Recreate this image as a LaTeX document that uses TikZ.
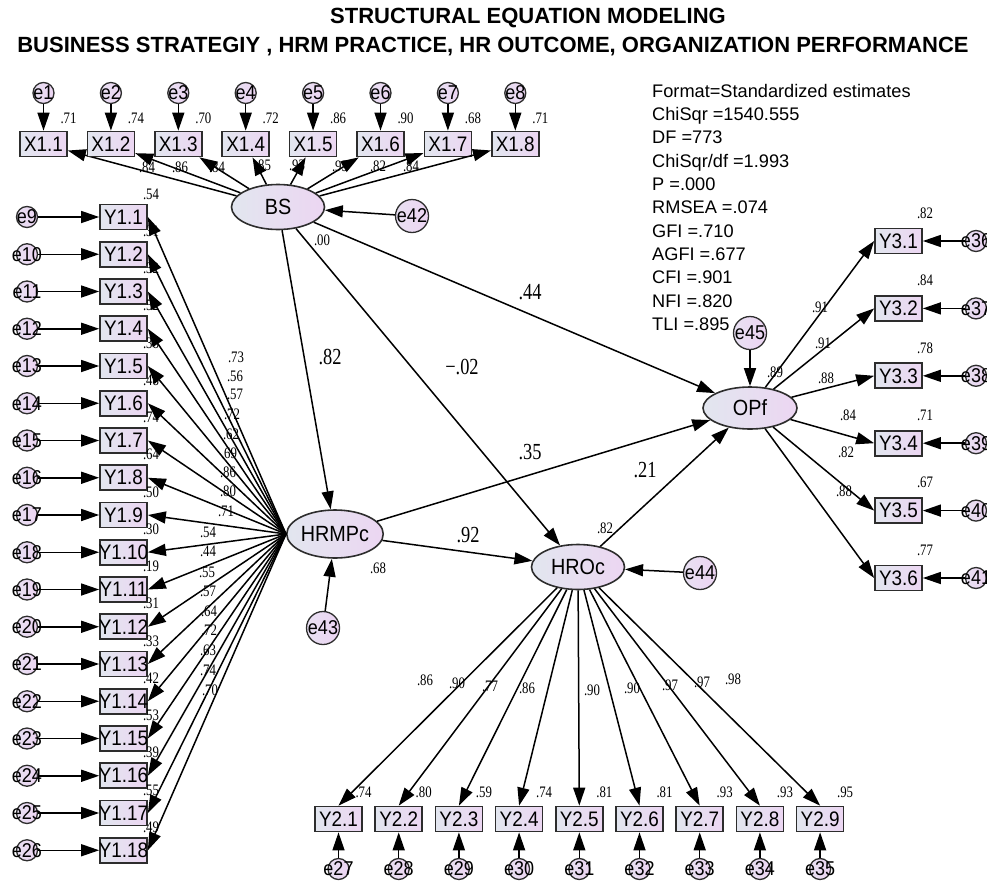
\documentclass[tikz,border=0pt]{standalone}
\usepackage{fontspec}
\setmainfont{Liberation Sans}
\newfontfamily\boxfont{Liberation Sans}[FakeStretch=0.9]
\newfontfamily\numfont{Liberation Serif}[FakeStretch=0.8]
\usetikzlibrary{arrows.meta,shapes.geometric}
\definecolor{fillL}{RGB}{226,230,239}
\definecolor{fillR}{RGB}{236,214,242}
\definecolor{errL}{RGB}{232,224,242}
\definecolor{errR}{RGB}{236,212,242}
\definecolor{boxline}{RGB}{45,45,45}

\begin{document}
\begin{tikzpicture}[x=1pt,y=-1pt,
  obs/.style={rectangle,draw=boxline,line width=1.7pt,minimum width=47pt,minimum height=25pt,inner sep=0pt,
    left color=fillL,right color=fillR,font=\boxfont\fontsize{21}{21}\selectfont,
    execute at begin node={\hbox to 0pt\bgroup\hss},execute at end node={\hss\egroup}},
  lat/.style={ellipse,draw=boxline,line width=1.6pt,minimum width=93pt,minimum height=45pt,inner sep=0pt,
    left color=fillL,right color=fillR,font=\boxfont\fontsize{22}{22}\selectfont},
  err/.style={circle,draw=boxline,line width=1.3pt,minimum size=21pt,inner sep=0pt,
    left color=errL,right color=errR,font=\boxfont\fontsize{20}{20}\selectfont,
    execute at begin node={\hbox to 0pt\bgroup\hss},execute at end node={\hss\egroup}},
  errbig/.style={err,minimum size=33pt},
  arr/.style={-{Triangle[length=18pt,width=12pt]},line width=1.5pt},
  num/.style={inner sep=0pt,font=\numfont\fontsize{16}{16}\selectfont},
  coef/.style={inner sep=0pt,font=\numfont\fontsize{23}{23}\selectfont}]
\useasboundingbox (0,0) rectangle (987,881);
\clip (0,0) rectangle (987,881);

% title and fit indices
\node[font=\bfseries\fontsize{22}{22}\selectfont] (title1) at (528,18) {STRUCTURAL EQUATION MODELING};
\node[font=\bfseries\fontsize{22}{22}\selectfont] (title2) at (493,47) {BUSINESS STRATEGIY , HRM PRACTICE, HR OUTCOME, ORGANIZATION PERFORMANCE};
\node[anchor=north west,inner sep=0pt,align=left,font=\fontsize{18.2}{23.3}\selectfont] (fit) at (652,84)
  {Format=Standardized estimates\\ChiSqr =1540.555\\DF =773\\ChiSqr/df =1.993\\P =.000\\RMSEA =.074\\GFI =.710\\AGFI =.677\\CFI =.901\\NFI =.820\\TLI =.895};

% latent variables
\node[lat] (bs) at (278,207) {BS};
\node[lat,minimum width=95pt,minimum height=48pt] (hrmpc) at (335,534) {HRMPc};
\node[lat] (hroc) at (578,567) {HROc};
\node[lat,minimum width=94pt,minimum height=42pt] (opf) at (750,408) {OPf};
\node[errbig] (e42) at (412,216) {e42};
\node[errbig] (e43) at (323,628) {e43};
\node[errbig] (e44) at (700,573) {e44};
\node[errbig] (e45) at (750,333) {e45};

% X1 indicators
\foreach \i/\r in {1/.71,2/.74,3/.70,4/.72,5/.86,6/.90,7/.68,8/.71}{
  \pgfmathsetmacro{\xx}{43.5+67.4*(\i-1)}
  \node[num] (rx\i) at (\xx+25,118) {\r};
  \node[obs] (x\i) at (\xx,144) {X1.\i};
  \node[err] (e\i) at (\xx,93) {e\i};
  \draw[arr] (e\i) -- (x\i);
  \draw[arr] (bs) -- (x\i);
}
\foreach \v/\px/\py [count=\i] in {.84/147/167,.86/180/167,.84/217/167,.85/263/165,.93/297/165,.95/340/166,.82/378/166,.84/411/166}
  \node[num] (lx\i) at (\px,\py) {\v};

% Y1 indicators
\foreach \k/\r in {1/.54,2/.31,3/.32,4/.52,5/.38,6/.48,7/.74,8/.64,9/.50,10/.30,11/.19,12/.31,13/.33,14/.42,15/.53,16/.39,17/.55,18/.49}{
  \pgfmathsetmacro{\yy}{217+37.25*(\k-1)}
  \pgfmathtruncatemacro{\n}{\k+8}
  \node[num] (ra\k) at (151,\yy-23) {\r};
  \node[obs] (ya\k) at (123.5,\yy) {Y1.\k};
  \node[err] (e\n) at (27,\yy) {e\n};
  \draw[arr] (e\n) -- (ya\k);
  \draw[arr] (hrmpc.west) -- (ya\k.east);
}
\foreach \v/\px/\py [count=\i] in {.73/236/357,.56/235/376,.57/235/394,.72/232/414,.62/231/434,.69/229/453,.86/228/472,.80/228/491,.71/226/511,
  .54/208/532,.44/208/551,.55/207/572,.57/208/591,.64/209/611,.72/209/630,.63/208/650,.74/208/670,.70/210/690}
  \node[num] (la\i) at (\px,\py) {\v};

% Y2 indicators
\foreach \j/\r in {1/.74,2/.80,3/.59,4/.74,5/.81,6/.81,7/.93,8/.93,9/.95}{
  \pgfmathsetmacro{\xx}{338.5+60.2*(\j-1)}
  \pgfmathtruncatemacro{\n}{\j+26}
  \node[num] (rb\j) at (\xx+25,792) {\r};
  \node[obs] (yb\j) at (\xx,819) {Y2.\j};
  \node[err] (e\n) at (\xx,869) {e\n};
  \draw[arr] (e\n) -- (yb\j);
  \draw[arr] (hroc) -- (yb\j.north);
}
\foreach \v/\px/\py [count=\i] in {.86/425/680,.90/457/683,.77/490/686,.86/527/688,.90/592/690,.90/632/688,.97/670/685,.97/702/682,.98/733/679}
  \node[num] (lb\i) at (\px,\py) {\v};

% Y3 indicators
\foreach \k/\r in {1/.82,2/.84,3/.78,4/.71,5/.67,6/.77}{
  \pgfmathsetmacro{\yy}{241+67.4*(\k-1)}
  \pgfmathtruncatemacro{\n}{\k+35}
  \node[num] (rc\k) at (925,\yy-28) {\r};
  \node[obs] (yc\k) at (898.5,\yy) {Y3.\k};
  \node[err] (e\n) at (976,\yy) {e\n};
  \draw[arr] (e\n) -- (yc\k);
  \draw[arr] (opf) -- (yc\k.west);
}
\foreach \v/\px/\py [count=\i] in {.91/820/307,.91/823/343,.88/826/378,.84/848/415,.82/846/452,.88/844/491}
  \node[num] (lc\i) at (\px,\py) {\v};

% structural paths
\draw[arr] (e42) -- (bs);
\draw[arr] (e43) -- (hrmpc);
\draw[arr] (e44) -- (hroc);
\draw[arr] (e45) -- (opf);
\draw[arr] (bs) -- (hrmpc);
\draw[arr] (bs) -- (hroc);
\draw[arr] (bs) -- (opf);
\draw[arr] (hrmpc) -- (opf);
\draw[arr] (hrmpc) -- (hroc);
\draw[arr] (hroc) -- (opf);
\node[coef] (c1) at (330,357) {.82};
\node[coef] (c2) at (462,367) {−.02};
\node[coef] (c3) at (530,292) {.44};
\node[coef] (c4) at (530,452) {.35};
\node[coef] (c5) at (645,470) {.21};
\node[coef] (c6) at (468,535) {.92};
\node[num] (rbs) at (322,240) {.00};
\node[num] (rhrm) at (378,568) {.68};
\node[num] (rhro) at (605,528) {.82};
\node[num] (ropf) at (775,372) {.89};
\end{tikzpicture}
\end{document}
